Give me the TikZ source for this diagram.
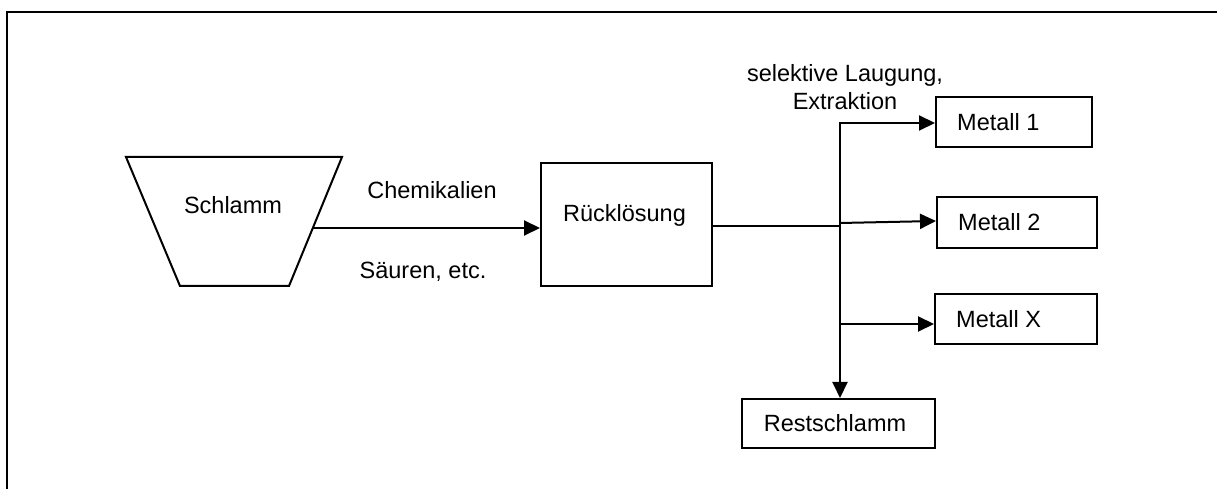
\documentclass[tikz,border=0pt]{standalone}
\usepackage{fontspec}
\setmainfont{Liberation Sans}
\usetikzlibrary{arrows.meta}
\begin{document}
\begin{tikzpicture}[x=1bp,y=-1bp,
  every node/.style={font=\fontsize{23.5bp}{28bp}\selectfont, inner sep=0pt},
  boxnode/.style={draw, line width=2bp, inner sep=0pt},
  txt/.style={},
  conn/.style={line width=2bp},
  arr/.style={line width=2bp, -{Triangle[length=16bp,width=15bp]}}]
\useasboundingbox (0,0) rectangle (1217,489);
% frame
\draw[line width=2.5bp] (7,489) -- (7,12) -- (1217,12);
% trapezoid
\draw[line width=2bp, line join=miter] (126,157) -- (342,157) -- (289,286) -- (180,286) -- cycle;
\node[txt] (schlamm) at (233,205) {Schlamm};
\coordinate (schout) at (312.6,228);
% boxes
\node[boxnode, minimum width=171bp, minimum height=123bp] (rueck) at (626.5,224.5) {};
\node[txt] (rueckt) at (624.5,215) {Rücklösung};
\node[boxnode, minimum width=156bp, minimum height=50bp] (m1) at (1014,122) {};
\node[txt, anchor=west] (m1t) at (957,122) {Metall 1};
\node[boxnode, minimum width=160bp, minimum height=51bp] (m2) at (1017,222.5) {};
\node[txt, anchor=west] (m2t) at (958,222.5) {Metall 2};
\node[boxnode, minimum width=162bp, minimum height=50bp] (mx) at (1016,319) {};
\node[txt, anchor=west] (mxt) at (956,319) {Metall X};
\node[boxnode, minimum width=193bp, minimum height=49bp] (rest) at (838.5,423.5) {};
\node[txt] (restt) at (835,423.5) {Restschlamm};
% labels
\node[txt] (chem) at (432,190) {Chemikalien};
\node[txt] (saeu) at (423,272) {Säuren, etc.};
\node[txt, align=center] (sel) at (845,87) {selektive Laugung,\\Extraktion};
% connectors
\draw[arr] (schout) -- (rueck.west |- schout);
\coordinate (j) at (840,226);
\coordinate (jtop) at (840,123);
\coordinate (j2) at (840,223);
\coordinate (jx) at (840,324);
\draw[conn] (rueck.east |- j) -- (j);
\draw[arr] (jtop) -- (jtop |- rest.north);
\draw[arr] ([xshift=-1bp]jtop) -- (m1.west |- jtop);
\draw[arr] (j2) -- ([yshift=1.5bp]m2.west);
\draw[arr] (jx) -- (mx.west |- jx);
\end{tikzpicture}
\end{document}
